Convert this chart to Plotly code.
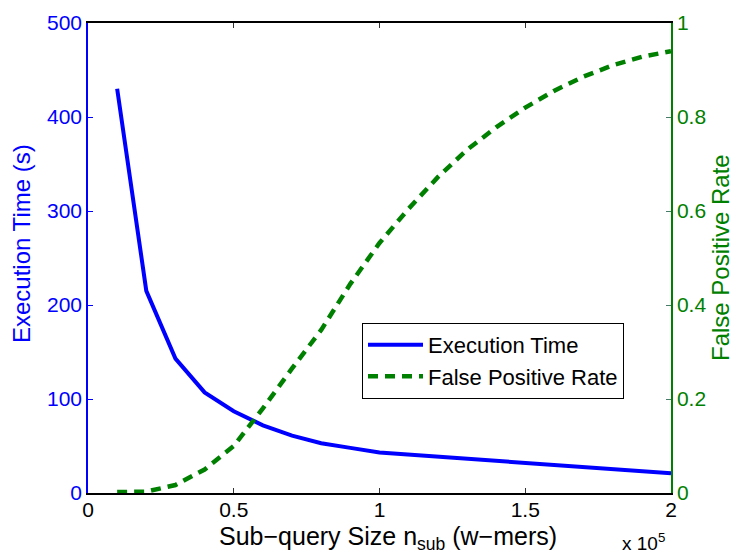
import plotly.graph_objects as go

# Data (x in units of 10^5 w-mers)
time_x = [0.1, 0.2, 0.3, 0.4, 0.5, 0.6, 0.7, 0.8, 0.9, 1.0, 2.0]
exec_time = [430, 215, 143, 107, 87, 72, 61, 53, 48, 43, 21]

fpr_x = [0.1, 0.2, 0.3, 0.4, 0.5, 0.6, 0.7, 0.8, 0.9, 1.0,
         1.1, 1.2, 1.3, 1.4, 1.5, 1.6, 1.7, 1.8, 1.9, 2.0]
fpr = [0.002, 0.003, 0.017, 0.05, 0.10, 0.18, 0.265, 0.347, 0.445, 0.532,
       0.605, 0.672, 0.73, 0.778, 0.82, 0.856, 0.886, 0.91, 0.928, 0.94]

x_ticks = [0, 0.5, 1, 1.5, 2]
x_ticktext = ["0", "0.5", "1", "1.5", "2"]
y1_ticks = [0, 100, 200, 300, 400, 500]
y2_ticks = [0, 0.2, 0.4, 0.6, 0.8, 1]
y2_ticktext = ["0", "0.2", "0.4", "0.6", "0.8", "1"]

BLUE = "#0000FF"
GREEN = "#008000"
FONT = "Liberation Sans, Arial, Helvetica, sans-serif"

fig = go.Figure()
fig.add_trace(go.Scatter(x=time_x, y=exec_time, mode="lines", name="Execution Time",
                         line=dict(color=BLUE, width=4), yaxis="y"))
fig.add_trace(go.Scatter(x=fpr_x, y=fpr, mode="lines", name="False Positive Rate",
                         line=dict(color=GREEN, width=4.5, dash="10px,7px"), yaxis="y2"))

fig.update_layout(
    width=733, height=554,
    margin=dict(l=88, r=62, t=23, b=61, autoexpand=False),
    paper_bgcolor="white", plot_bgcolor="white",
    font=dict(family=FONT, size=21, color="black"),
    showlegend=True,
    legend=dict(x=0.47, y=0.362, xanchor="left", yanchor="top",
                bordercolor="black", borderwidth=1, bgcolor="white",
                font=dict(size=22, color="black"), tracegroupgap=0,
                itemwidth=55),
    xaxis=dict(range=[0, 2], tickvals=x_ticks, ticktext=x_ticktext, automargin=False,
               showgrid=False, zeroline=False, showline=True, linecolor="black",
               linewidth=1.5, mirror="ticks", ticks="inside", ticklen=5,
               ticklabelstandoff=-3,
               tickcolor="#333333", tickfont=dict(size=21, color="black")),
    yaxis=dict(range=[0, 500], tickvals=y1_ticks, showgrid=False, zeroline=False,
               automargin=False,
               showline=True, linecolor=BLUE, linewidth=1.5, ticks="inside", ticklen=5,
               tickcolor=BLUE, tickfont=dict(size=21, color=BLUE)),
    yaxis2=dict(range=[0, 1], tickvals=y2_ticks, ticktext=y2_ticktext, overlaying="y",
                side="right", showgrid=False, zeroline=False, showline=True,
                automargin=False,
                linecolor=GREEN, linewidth=1.5, ticks="inside", ticklen=5,
                tickcolor="#4a7a6a", tickfont=dict(size=21, color=GREEN)),
    annotations=[
        dict(text="Execution Time (s)", xref="paper", yref="paper", x=-0.113, y=0.53,
             xanchor="center", yanchor="middle", textangle=-90, showarrow=False,
             font=dict(size=24, color=BLUE)),
        dict(text="False Positive Rate", xref="paper", yref="paper", x=1.084, y=0.502,
             xanchor="center", yanchor="middle", textangle=-90, showarrow=False,
             font=dict(size=24, color=GREEN)),
        dict(text="Sub\u2212query Size n<sub>sub</sub> (w\u2212mers)", xref="paper", yref="paper",
             x=0.515, y=-0.057, xanchor="center", yanchor="top", showarrow=False,
             font=dict(size=25, color="black")),
        dict(text="x 10<sup>5</sup>", xref="paper", yref="paper",
             x=0.9125, y=-0.075, xanchor="left", yanchor="top", showarrow=False,
             font=dict(size=19, color="black")),
    ],
)

fig.write_html("out.html", config={"displayModeBar": False},
               post_script="document.body.style.margin='0';document.body.style.overflow='hidden';")
